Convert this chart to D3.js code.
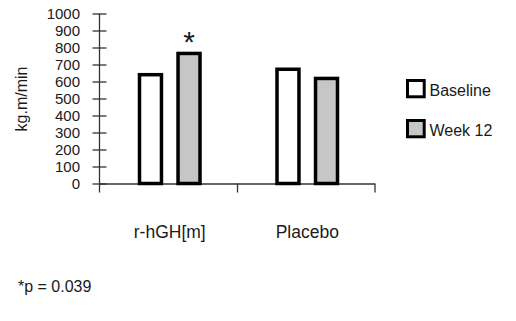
<!DOCTYPE html>
<html>
<head>
<meta charset="utf-8">
<script src="https://cdn.jsdelivr.net/npm/d3@7"></script>
<style>
body { margin: 0; background: #ffffff; }
text { font-family: "Liberation Sans", Arial, sans-serif; fill: #1a1a1a; }
</style>
</head>
<body>
<div class="graph"></div>
<script>

// data
var groups = ["r-hGH[m]", "Placebo"];
var keys = ["Baseline", "Week 12"];
var baseline = [640, 672];
var week12 = [765, 618];
var yTicks = [0, 100, 200, 300, 400, 500, 600, 700, 800, 900, 1000];
var markers = [{group: "r-hGH[m]", key: "Week 12", text: "*"}];
var footnote = "*p = 0.039";
var yLabel = "kg.m/min";

var svgWidth = 516;
var svgHeight = 321;
var fills = {"Baseline": "#ffffff", "Week 12": "#c6c6c6"};

var rows = [];
groups.forEach(function(g, i) {
	rows.push({group: g, key: "Baseline", value: baseline[i]});
	rows.push({group: g, key: "Week 12", value: week12[i]});
});

var svg = d3.select("div.graph")
	.append("svg")
	.attr("width", svgWidth)
	.attr("height", svgHeight);

var y = d3.scaleLinear()
	.domain([0, 1000])
	.range([183.5, 13.5]);

var x0 = d3.scaleBand()
	.domain(groups)
	.range([99.5, 374.5]);

var x1 = d3.scaleBand()
	.domain(keys)
	.range([40, 100.5])
	.paddingInner(0.43);

var xDiv = d3.scaleLinear()
	.domain([0, groups.length])
	.range([99.5, 374.5]);

//y axis
var yAxis = d3.axisLeft(y)
	.tickValues(yTicks)
	.tickFormat(d3.format("d"))
	.tickSizeOuter(0);

var gY = svg.append("g")
	.attr("transform", "translate(99.5,0)")
	.call(yAxis);

gY.select(".domain").remove();
gY.selectAll(".tick line").attr("x1", -7).attr("x2", 7).attr("stroke", "#333").attr("stroke-width", 1.3);
gY.selectAll(".tick text").attr("x", -19.5).style("font-size", "15px").style("font-family", "Liberation Sans, Arial, sans-serif").attr("fill", "#1a1a1a");

gY.append("line")
	.attr("x1", 0).attr("x2", 0)
	.attr("y1", y(0) + 9).attr("y2", y(1000))
	.attr("stroke", "#333").attr("stroke-width", 1.3);

//x axis, ticks only between the groups
var xAxis = d3.axisBottom(xDiv)
	.tickValues([1, 2])
	.tickSize(9)
	.tickSizeOuter(0)
	.tickFormat("");

var gX = svg.append("g")
	.attr("transform", "translate(0," + y(0) + ")")
	.call(xAxis);
gX.select(".domain").attr("stroke", "#333").attr("stroke-width", 1.3);
gX.selectAll(".tick line").attr("stroke", "#333").attr("stroke-width", 1.3);

//bars
svg.append("g").selectAll("rect")
	.data(rows)
	.enter()
	.append("rect")
	.attr("x", function(d) { return x0(d.group) + x1(d.key); })
	.attr("y", function(d) { return y(d.value); })
	.attr("width", x1.bandwidth())
	.attr("height", function(d) { return y(0) - y(d.value); })
	.attr("fill", function(d) { return fills[d.key]; })
	.attr("stroke", "#000")
	.attr("stroke-width", 3.5);

//significance marker
svg.append("g").selectAll("text")
	.data(markers)
	.enter()
	.append("text")
	.attr("x", function(d) { return x0(d.group) + x1(d.key) + x1.bandwidth() / 2; })
	.attr("y", function(d) {
		var r = rows.filter(function(q) { return q.group == d.group && q.key == d.key; })[0];
		return y(r.value) - 1;
	})
	.attr("text-anchor", "middle")
	.style("font-size", "30px")
	.text(function(d) { return d.text; });

//category labels
svg.append("g").selectAll("text")
	.data(groups)
	.enter()
	.append("text")
	.attr("x", function(d) { return x0(d) + x0.bandwidth() / 2 + 1.5; })
	.attr("y", 238.3)
	.attr("text-anchor", "middle")
	.style("font-size", "17.5px")
	.text(function(d) { return d; });

//y label
svg.append("text")
	.attr("transform", "translate(26.6,99) rotate(-90)")
	.attr("text-anchor", "middle")
	.style("font-size", "16px")
	.text(yLabel);

//legend
var legend = svg.append("g").selectAll("g")
	.data(keys)
	.enter()
	.append("g")
	.attr("transform", function(d, i) { return "translate(407.5," + (80.5 + i * 40) + ")"; });

legend.append("rect")
	.attr("width", 16.7)
	.attr("height", 16.3)
	.attr("fill", function(d) { return fills[d]; })
	.attr("stroke", "#000")
	.attr("stroke-width", 3);

legend.append("text")
	.attr("x", 22)
	.attr("y", 15)
	.style("font-size", "16px")
	.text(function(d) { return d; });

//footnote
svg.append("text")
	.attr("x", 18)
	.attr("y", 291.7)
	.style("font-size", "16px")
	.text(footnote);

</script>
</body>
</html>
